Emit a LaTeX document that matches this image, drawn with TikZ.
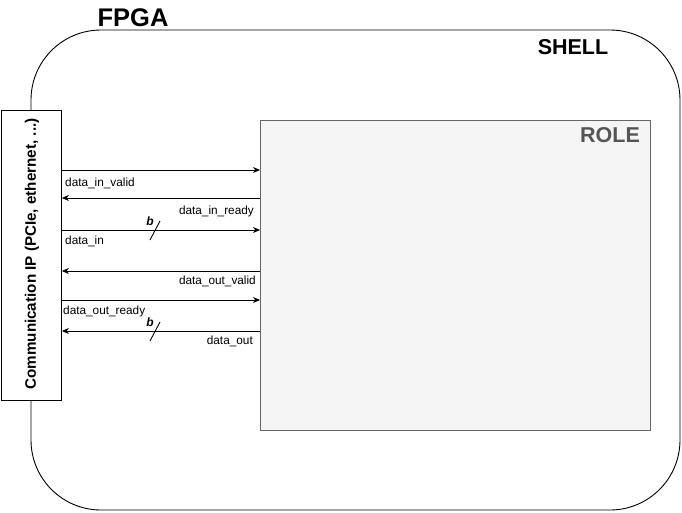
\documentclass[tikz,border=0pt]{standalone}
\usepackage{fontspec}
\setmainfont{Liberation Sans}
\usetikzlibrary{arrows.meta,calc}
\begin{document}
\begin{tikzpicture}[x=1pt,y=-1pt,
  sig/.style={draw=black,line width=0.9pt,-{Stealth[length=7pt,width=6pt]}},
  lbl/.style={inner sep=0pt,font=\fontsize{11.8}{14}\selectfont},
  slashmark/.style={draw=black,line width=0.9pt},
  title/.style={font=\fontsize{21.5}{24}\selectfont\bfseries,inner sep=0pt}]
\useasboundingbox (0,0) rectangle (682,512);
% shell
\draw[line width=0.9pt,rounded corners=70pt] (31,30) rectangle (680,510);
\node[title,font=\fontsize{25.5}{28}\selectfont\bfseries] (fpga) at (133,18) {FPGA};
\node[title] (shell) at (573,47) {SHELL};
% role
\node[draw={rgb,255:red,102;green,102;blue,102},fill={rgb,255:red,245;green,245;blue,245},line width=0.9pt,minimum width=390pt,minimum height=310pt,inner sep=0pt,anchor=north west] (role) at (260,120) {};
\node[title,text={rgb,255:red,85;green,85;blue,85}] (roletxt) at (610,135) {ROLE};
% comm IP
\node[draw,line width=0.9pt,fill=white,minimum width=60pt,minimum height=290pt,inner sep=0pt,anchor=north west] (comm) at (1,110) {};
\node[rotate=90,font=\fontsize{15.2}{17}\selectfont\bfseries,inner sep=0pt] (commtxt) at (32,254) {Communication IP (PCIe, ethernet, ...)};
% coordinates
\foreach \n/\y in {a/170,b/198,c/230,d/271,e/300,f/331}{
  \coordinate (L\n) at (comm.east |- 0,\y);
  \coordinate (R\n) at (role.west |- 0,\y);
}
\draw[sig] (La) -- (Ra);
\draw[sig] (Rb) -- (Lb);
\draw[sig] (Lc) -- (Rc);
\draw[sig] (Rd) -- (Ld);
\draw[sig] (Le) -- (Re);
\draw[sig] (Rf) -- (Lf);
% labels
\node[lbl,anchor=west] (t1) at (65,183) {data\_in\_valid};
\node[lbl,anchor=east] (t2) at (254,211) {data\_in\_ready};
\node[lbl,anchor=west] (t3) at (65,241) {data\_in};
\node[lbl,anchor=east] (t4) at (256,281) {data\_out\_valid};
\node[lbl,anchor=west] (t5) at (63,311) {data\_out\_ready};
\node[lbl,anchor=east] (t6) at (253,341) {data\_out};
% bus slashes
\coordinate (s1a) at (150,240); \coordinate (s1b) at (160,221);
\draw[slashmark] (s1a) -- (s1b);
\node[lbl,font=\fontsize{12}{14}\selectfont\bfseries\itshape] (b1) at (150,221) {b};
\coordinate (s2a) at (150,341); \coordinate (s2b) at (160,322);
\draw[slashmark] (s2a) -- (s2b);
\node[lbl,font=\fontsize{12}{14}\selectfont\bfseries\itshape] (b2) at (150,322) {b};
\end{tikzpicture}
\end{document}
